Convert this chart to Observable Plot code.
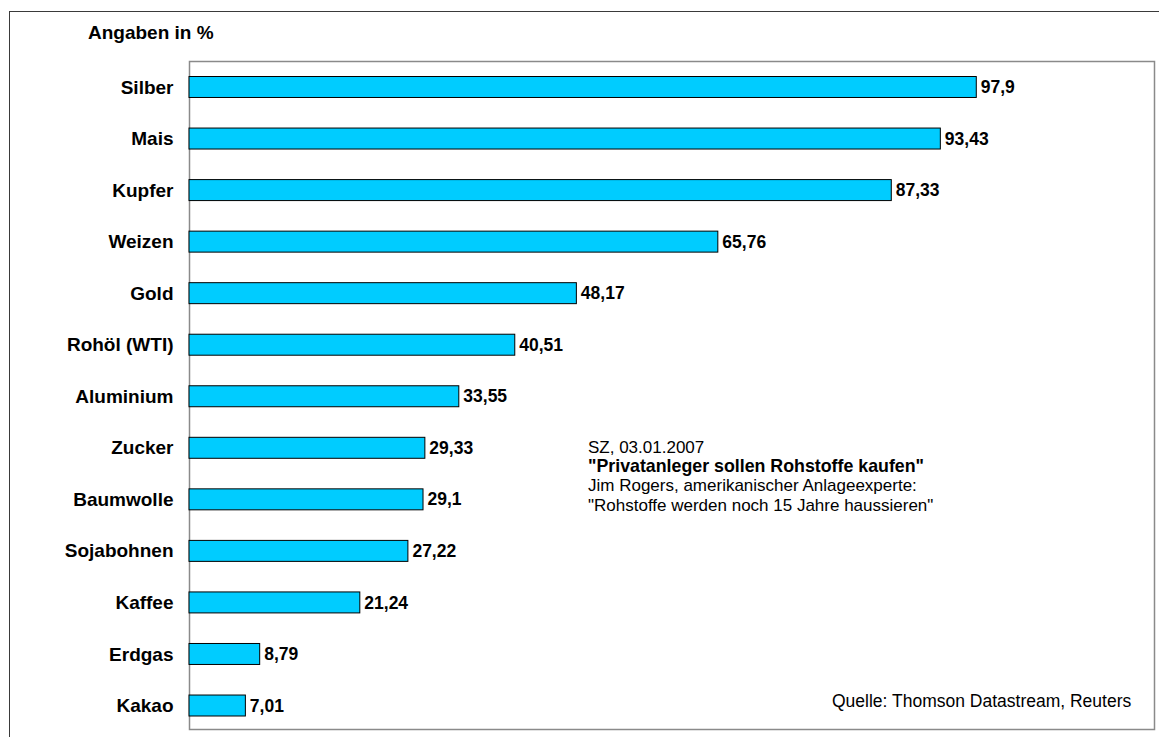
<!DOCTYPE html>
<html>
<head>
<meta charset="utf-8">
<script src="https://cdn.jsdelivr.net/npm/d3@7"></script>
<script src="https://cdn.jsdelivr.net/npm/@observablehq/plot@0.6"></script>
<style>
  html, body { margin: 0; padding: 0; background: #fff; }
  body { width: 1159px; height: 737px; position: relative; overflow: hidden; font-family: "Liberation Sans", Arial, sans-serif; color: #000; }
  #chart { position: absolute; left: 0; top: 0; }
  #outer { position: absolute; left: 9px; top: 11px; width: 1300px; height: 900px; border: 1.5px solid #3a3a3a; box-sizing: border-box; pointer-events: none; }
  .note { position: absolute; white-space: nowrap; }
  #unit { left: 88px; top: 22px; font-size: 19px; font-weight: bold; }
  #quote { left: 588px; top: 438px; font-size: 17px; line-height: 19.2px; }
  #quote b { font-weight: bold; font-size: 17.8px; }
  #source { left: 832px; top: 691px; font-size: 17.5px; }
</style>
</head>
<body>
<div id="chart"></div>
<div id="outer"></div>
<div class="note" id="unit">Angaben in %</div>
<div class="note" id="quote">SZ, 03.01.2007<br><b>"Privatanleger sollen Rohstoffe kaufen"</b><br>Jim Rogers, amerikanischer Anlageexperte:<br>"Rohstoffe werden noch 15 Jahre haussieren"</div>
<div class="note" id="source">Quelle: Thomson Datastream, Reuters</div>
<script>
const categories = ["Silber", "Mais", "Kupfer", "Weizen", "Gold", "Rohöl (WTI)", "Aluminium", "Zucker", "Baumwolle", "Sojabohnen", "Kaffee", "Erdgas", "Kakao"];
const values = [97.9, 93.43, 87.33, 65.76, 48.17, 40.51, 33.55, 29.33, 29.1, 27.22, 21.24, 8.79, 7.01];
const xDomain = [0, 120];

const data = categories.map((c, i) => ({ name: c, value: values[i] }));
const fmt = v => String(v).replace(".", ",");

const chart = Plot.plot({
  width: 1159,
  height: 737,
  marginLeft: 189,
  marginRight: 5,
  marginTop: 61,
  marginBottom: 8,
  style: { fontFamily: "'Liberation Sans', Arial, sans-serif", fontSize: "19px", fontWeight: "bold", color: "#000", background: "transparent" },
  x: { domain: xDomain, axis: null },
  y: { domain: categories, round: false, paddingInner: 0.593, paddingOuter: 0.2765, align: 0.544, label: null, tickSize: 0, tickPadding: 16 },
  marks: [
    Plot.frame({ stroke: "#8a8a8a", strokeWidth: 1.5 }),
    Plot.barX(data, { x: "value", y: "name", fill: "#00CCFF", stroke: "#000", strokeWidth: 1 }),
    Plot.text(data, { x: "value", y: "name", text: d => fmt(d.value), textAnchor: "start", dx: 4, fontSize: 17.5, fontWeight: "bold", fill: "#000" })
  ]
});
document.getElementById("chart").appendChild(chart);
</script>
</body>
</html>
